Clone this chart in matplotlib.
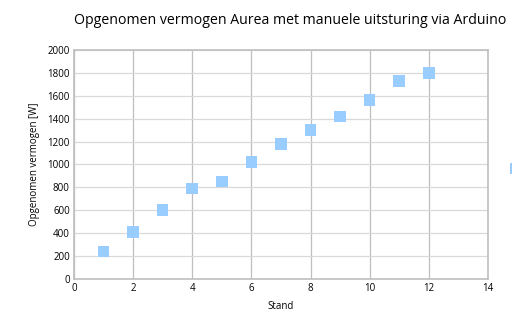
import matplotlib
matplotlib.use('Agg')
import matplotlib.pyplot as plt

# Data
stand = [1, 2, 3, 4, 5, 6, 7, 8, 9, 10, 11, 12]
vermogen = [240, 410, 600, 790, 850, 1020, 1180, 1300, 1420, 1560, 1730, 1800]

plt.rcParams['font.family'] = ['Open Sans', 'DejaVu Sans']

fig = plt.figure(figsize=(5.12, 3.24), dpi=100)
ax = fig.add_axes([0.1445, 0.139, 0.8085, 0.707])

pts = ax.scatter(stand, vermogen, marker='s', s=70, color='#99CCFF',
                 edgecolors='none', zorder=3)

ax.set_xlim(0, 14)
ax.set_ylim(0, 2000)
ax.set_xticks(range(0, 15, 2))
ax.set_yticks(range(0, 2001, 200))
ax.tick_params(labelsize=7, length=0, pad=3)

ax.grid(True, axis='x', color='#BFBFBF', linewidth=0.9)
ax.grid(True, axis='y', color='#D9D9D9', linewidth=0.9)
for s in ax.spines.values():
    s.set_color('#BFBFBF')
    s.set_linewidth(1.2)

ax.set_xlabel('Stand', fontsize=7, labelpad=5)
ax.set_ylabel('Opgenomen vermogen [W]', fontsize=7, labelpad=5)
fig.text(0.566, 0.938, 'Opgenomen vermogen Aurea met manuele uitsturing via Arduino',
         ha='center', va='center', fontsize=10.2)

# legend marker cut off at the right edge, as in the original
fig.legend(handles=[pts], labels=[''], loc='center left',
           bbox_to_anchor=(0.988, 0.48), frameon=False, fontsize=7,
           handletextpad=0, borderaxespad=0, borderpad=0)

fig.savefig('out.png', dpi=100)
